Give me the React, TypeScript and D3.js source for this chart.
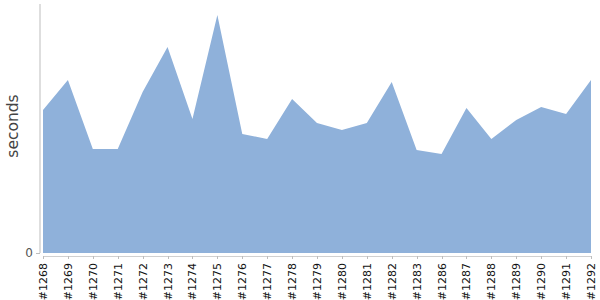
import React from "react";
import * as d3 from "d3";

const categories = ["#1268","#1269","#1270","#1271","#1272","#1273","#1274","#1275","#1276","#1277","#1278","#1279","#1280","#1281","#1282","#1283","#1286","#1287","#1288","#1289","#1290","#1291","#1292"];
const seconds = [143,173,104,104,161,206,134,238,119,114,154,130,123,130,171,103,99,145,114,133,146,139,173];
const yTicks = [0];

export default function App() {
  const W = 600, H = 300;
  const x = d3.scalePoint<string>().domain(categories).range([43, 591]);
  const y = d3.scaleLinear().domain([0, 249]).range([253, 4]);
  const area = d3.area<number>()
    .x((_, i) => x(categories[i]) as number)
    .y0(y(0))
    .y1((d) => y(d));
  return (
    <svg width={W} height={H} style={{ position: "absolute", left: 0, top: 0 }}
      fontFamily="'DejaVu Sans', Verdana, sans-serif">
      <path d={area(seconds) || ""} fill="#8fb1da" />
      <line x1={40} x2={40} y1={4} y2={253} stroke="#bdbdbd" strokeWidth={1} />
      {yTicks.map((t) => (
        <g key={t}>
          <line x1={36} x2={40} y1={y(t) + 0.5} y2={y(t) + 0.5} stroke="#bdbdbd" />
          <text x={33} y={y(t)} dy="0.3em" textAnchor="end" fontSize={12} fill="#555">{t}</text>
        </g>
      ))}
      <line x1={x(categories[0])} x2={x(categories[categories.length - 1])} y1={256.5} y2={256.5} stroke="#d0d0d0" />
      {categories.map((c) => (
        <g key={c} transform={`translate(${Math.round(x(c) as number) + 0.5},0)`}>
          <line y1={256} y2={259} stroke="#bdbdbd" />
          <text transform="translate(0,263) rotate(-90)" textAnchor="end" dy="0.35em" fontSize={11} fill="#111">{c}</text>
        </g>
      ))}
      <text transform="translate(13,126) rotate(-90)" textAnchor="middle" dy="0.35em" fontSize={15.5} fill="#444">seconds</text>
    </svg>
  );
}
